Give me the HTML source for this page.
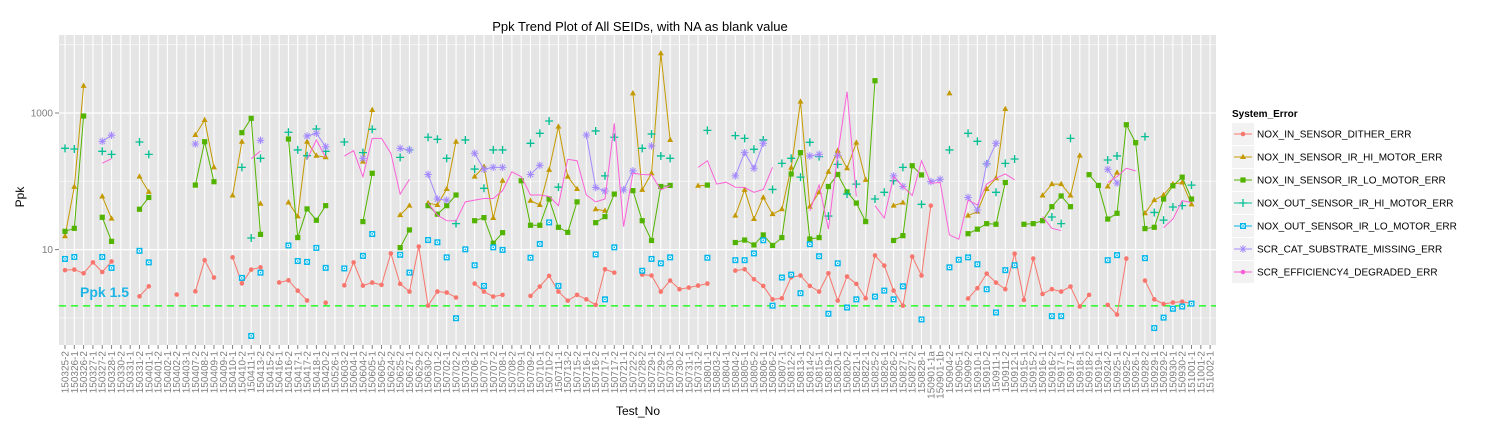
<!DOCTYPE html>
<html><head><meta charset="utf-8"><style>
html,body{margin:0;padding:0;background:#fff;}
svg{display:block;font-family:"Liberation Sans",Arial,sans-serif;}
</style></head><body>
<svg id="chart" width="1500" height="430" viewBox="0 0 1500 430">
<rect x="0" y="0" width="1500" height="430" fill="#fff"/>
<text x="640" y="31" font-size="13" text-anchor="middle" fill="#000">Ppk Trend Plot of All SEIDs, with NA as blank value</text>
<text transform="translate(24,197) rotate(-90)" font-size="12" text-anchor="middle" fill="#000">Ppk</text>
<text x="638" y="415" font-size="12" text-anchor="middle" fill="#000">Test_No</text>
<g id="panel"></g>
<g id="xlabels"></g>
<g id="series"></g>
<g id="legend"></g>
</svg>
<script>
const categories = ["150325-2","150326-1","150326-2","150327-1","150327-2","150328-1","150330-2","150331-1","150331-2","150401-1","150401-2","150402-1","150402-2","150403-1","150407-2","150408-2","150409-1","150409-2","150410-1","150410-2","150411-1","150413-2","150415-2","150416-1","150416-2","150417-1","150417-2","150418-1","150420-2","150526-1","150603-2","150604-1","150604-2","150605-1","150605-2","150624-2","150625-2","150627-1","150629-2","150630-2","150701-2","150702-1","150702-2","150703-1","150706-2","150707-1","150707-2","150708-1","150708-2","150709-1","150709-2","150710-1","150710-2","150711-1","150713-2","150715-2","150716-1","150716-2","150717-1","150717-2","150721-1","150722-2","150728-2","150729-1","150729-2","150730-1","150730-2","150731-1","150731-2","150801-1","150803-2","150804-1","150804-2","150805-1","150805-2","150806-1","150806-2","150807-1","150812-2","150813-1","150814-2","150815-1","150819-2","150820-1","150820-2","150821-1","150822-1","150825-2","150826-1","150826-2","150827-1","150827-2","150828-1","150901-1a","150901-1b","150904-2","150905-1","150909-2","150910-1","150910-2","150911-1","150911-2","150912-1","150915-1","150915-2","150916-1","150916-2","150917-1","150917-2","150918-1","150918-2","150919-1","150924-2","150925-1","150925-2","150926-1","150928-2","150929-1","150929-2","150930-1","150930-2","151001-1","151001-2","151002-1"];
const seriesNames = ["NOX_IN_SENSOR_DITHER_ERR","NOX_IN_SENSOR_IR_HI_MOTOR_ERR","NOX_IN_SENSOR_IR_LO_MOTOR_ERR","NOX_OUT_SENSOR_IR_HI_MOTOR_ERR","NOX_OUT_SENSOR_IR_LO_MOTOR_ERR","SCR_CAT_SUBSTRATE_MISSING_ERR","SCR_EFFICIENCY4_DEGRADED_ERR"];
const yTickValues = [10, 1000];
const yTickLabels = ["10", "1000"];
const yGridValues = [1, 10, 100, 1000, 10000];
const ppkLimit = 1.5;
const N = null;
const ditherErr = [5.0,5.1,4.5,6.5,4.7,6.7,N,N,2.07,2.9, N,N,2.2,N,2.45,7.0,3.9,N,7.7,3.2, 5.1,5.5,N,3.3,3.55,2.5,1.8,N,1.67,N, 3.0,6.5,2.97,3.29,3.04,8.8,3.15,2.43,11.1,1.51, 2.43,2.35,1.99,N,3.18,2.43,2.05,2.17,N,N, 2.1,2.88,4.12,2.43,1.79,2.17,1.87,1.55,5.15,4.6, N,N,4.3,4.17,2.43,3.52,2.63,2.78,2.97,3.18, N,N,4.93,5.15,3.68,2.94,1.87,1.94,3.93,4.17, 2.94,2.43,4.5,1.79,4.03,3.15,1.94,8.2,5.83,2.51, 1.51,7.9,4.17,44,N,N,N,1.92,2.72,4.45, 3.29,2.63,8.7,1.83,7.4,2.24,2.63,2.43,2.88,1.47, 2.17,N,1.55,1.12,7.4,N,3.52,1.87,1.6,1.68, 1.73,1.62,N,N];
const irHiErr = [15.7,83,2500,N,60,28.4,N,N,117,70, N,N,N,N,477,790,160,N,62,380, N,47,N,N,49,30.7,380,237,225,N, N,N,194,1107,N,N,32,44,N,48, 45,77,380,N,117,164,29,102,N,N, 52,45,147,631,117,77,N,39,37,N, N,1941,75,131,7460,403,N,N,86,87, N,N,31.5,75,28,58,33,39,158,1466, 42.5,69,138,281,155,368,105,N,N,44, 48.7,N,N,N,N,1941,N,31.5,36,77, 111,1144,N,N,N,62,91,91,62,238, N,N,84,134,N,N,34,53,63,91, 96,46,N,N];
const irLoErr = [18.5,20.5,904,N,29.7,13.2,N,N,39,58, N,N,N,N,88,380,98.6,N,N,515, 836,16.7,N,N,416,15,39.4,26.9,44,N, N,N,25.7,131,N,N,10.7,19.4,N,44, 33,44,63,N,26.5,29.4,12.4,17.7,N,102, 22.7,22.7,55,21.2,17.9,50,N,24.8,30.4,65, N,73,26.5,13.6,84,87,N,N,N,88, N,N,12.7,13.8,11.7,16.4,11.5,15,128,263, 14.3,15,84,126,70,48,25.7,2970,N,13.6, 16,169,124,N,N,N,N,17.1,19.9,24, 23.5,96,N,23.5,24,26.5,42.5,61,42.5,N, 125,87,28,34,674,368,20.3,21.2,55,86, 115,55,N,N];
const outHiErr = [304,297,N,N,275,248,N,N,376,248, N,N,N,N,N,N,N,N,N,160, 14.8,217,N,N,522,288,237,583,275,N, 376,N,263,577,N,N,224,288,N,441, 412,217,24,403,151,79,288,288,N,N, 360,504,764,82,N,N,N,546,120,441, N,N,304,493,235,217,N,N,N,557, N,N,466,425,294,403,76,183,217,115, 372,230,31,177,65,91,N,55,69,102, 160,N,46,N,N,288,N,504,385,180, 69,183,212,N,N,N,30,24,425,N, N,N,205,235,N,N,451,35,27,42, 44,88,N,N];
const outLoErr = [7.3,7.8,N,N,7.8,5.4,N,N,9.6,6.5, N,N,N,N,N,N,N,N,N,3.85, 0.545,4.6,N,N,11.5,6.8,6.6,10.6,5.4,N, 5.3,N,8.1,16.9,N,N,8.4,4.6,N,13.8, 12.8,7.7,0.99,10.1,5.9,2.94,10.8,9.9,N,N, 7.6,12.1,25,2.94,N,N,N,8.5,1.87,10.8, N,N,4.9,7.3,6.3,7.7,N,N,N,7.6, N,N,7.0,7.0,8.8,13.7,1.51,3.9,4.3,2.3, 12,8.0,1.15,6.3,1.42,1.87,N,2.05,2.51,1.87, 2.9,N,0.95,N,N,5.5,7.1,7.7,6.1,2.63, 1.2,5.0,5.9,N,N,N,1.06,1.06,N,N, N,N,7.0,8.3,N,N,7.5,0.71,1.01,1.36, 1.47,1.62,N,N];
const catMissingErr = [N,N,N,N,385,472,N,N,N,N, N,N,N,N,352,N,N,N,N,N, N,398,N,N,N,N,460,505,321,N, N,N,217,N,N,N,304,288,N,126, 55,53,N,N,257,150,160,160,N,N, 126,171,N,N,N,N,476,81,72,N, 75,142,N,329,N,N,N,N,N,N, N,N,120,263,155,360,N,N,N,N, 235,248,N,238,N,N,N,N,N,120, 84,N,N,99,107,N,N,58,38,180, 360,N,N,N,N,N,N,N,N,N, N,N,150,94,N,N,N,N,N,N, N,N,N,N];
const effDegradedErr = [N,N,N,N,184,214,N,N,N,N, N,N,N,N,N,N,N,N,N,N, 214,278,N,N,N,N,209,403,225,N, 234,281,117,425,425,257,65,107,N,48, 32,26.5,26.3,50,53,56,56,73,138,117, 63,63,60,44,210,200,63,50,55,706, 21.7,131,126,124,75,87,N,N,160,200, 91,97,82,81,69,76,160,N,N,N, 37,88,19.9,251,2050,60,N,44,29,117, 84,62,200,94,96,16.4,14.2,53,45,91, 111,128,105,N,N,30.4,20.5,19,N,N, N,N,96,117,155,142,N,N,21,28, 52,49,N,N];

const seriesData = [ditherErr, irHiErr, irLoErr, outHiErr, outLoErr, catMissingErr, effDegradedErr];
const colors = ["#F8766D","#C49A00","#53B400","#00C094","#00B6EB","#A58AFF","#FB61D7"];
const shapes = ["circle","triangle","square","plus","boxdot","star","none"];
const drawLines = [true, true, true, false, false, true, true];

const NS = "http://www.w3.org/2000/svg";
const PX0 = 59, PX1 = 1216, PY0 = 35, PY1 = 345;
function xAt(i){ return 65 + i * 9.31; }
function yAt(v){ return 113 + (3 - Math.log10(v)) * 68.3; }
function mk(tag, attrs, parent){
  const e = document.createElementNS(NS, tag);
  for (const k in attrs) e.setAttribute(k, attrs[k]);
  parent.appendChild(e);
  return e;
}

const panel = document.getElementById("panel");
const bg = mk("rect", {x:PX0, y:PY0, width:PX1-PX0, height:PY1-PY0, fill:"#E5E5E5"}, panel);


yGridValues.forEach(function(v){
  const y = yAt(v);
  if (y < PY0 || y > PY1) return;
  const major = yTickValues.indexOf(v) >= 0;
  const g = mk("line", {x1:PX0, x2:PX1, y1:y, y2:y, stroke: major ? "#FFFFFF" : "#F7F7F7", "stroke-width": major ? 1.2 : 0.8}, panel);
  
  
});
categories.forEach(function(c, i){
  const x = xAt(i);
  const g = mk("line", {x1:x, x2:x, y1:PY0, y2:PY1, stroke:"#FFFFFF", "stroke-width":1.1}, panel);
  
  
  const t = mk("line", {x1:x, x2:x, y1:PY1, y2:PY1+4, stroke:"#7F7F7F", "stroke-width":1}, panel);
  
  
});
yTickValues.forEach(function(v, k){
  const y = yAt(v);
  const t = mk("line", {x1:PX0-4, x2:PX0, y1:y, y2:y, stroke:"#7F7F7F", "stroke-width":1}, panel);
  
  
  const lbl = mk("text", {x:PX0-6, y:y+3.5, "font-size":10, "text-anchor":"end", fill:"#7F7F7F"}, panel);
  lbl.textContent = yTickLabels[k];
  
  
});
const ly = yAt(ppkLimit);
const lim = mk("line", {x1:PX0, x2:PX1, y1:ly, y2:ly, stroke:"#00FF00", "stroke-width":1.3, "stroke-dasharray":"7,5"}, panel);


const limT = mk("text", {x:80, y:ly-9, "font-size":14, "font-weight":"bold", fill:"#1EB4E6"}, panel);
limT.textContent = "Ppk 1.5";



const xl = document.getElementById("xlabels");
categories.forEach(function(c, i){
  const x = xAt(i) + 3.5, y = PY1 + 6;
  const t = mk("text", {x:x, y:y, "font-size":10, "text-anchor":"end", fill:"#7F7F7F", transform:"rotate(-90 "+x+" "+y+")"}, xl);
  t.textContent = c;
  
  
});

function drawShape(shape, x, y, color, parent){
  let e = null;
  if (shape === "circle") {
    e = mk("circle", {cx:x, cy:y, r:2.3, fill:color}, parent);
  } else if (shape === "triangle") {
    e = mk("polygon", {points:(x)+","+(y-3.3)+" "+(x-3)+","+(y+2)+" "+(x+3)+","+(y+2), fill:color}, parent);
  } else if (shape === "square") {
    e = mk("rect", {x:x-2.6, y:y-2.6, width:5.2, height:5.2, fill:color}, parent);
  } else if (shape === "plus") {
    e = mk("path", {d:"M"+(x-4)+" "+y+"H"+(x+4)+"M"+x+" "+(y-4)+"V"+(y+4), stroke:color, "stroke-width":1.3, fill:"none"}, parent);
  } else if (shape === "boxdot") {
    e = mk("g", {}, parent);
    mk("rect", {x:x-3, y:y-3, width:6, height:6, fill:color}, e);
    mk("circle", {cx:x, cy:y, r:1.3, fill:"none", stroke:"#fff", "stroke-width":0.9}, e);
  } else if (shape === "star") {
    let d = "";
    for (let a = 0; a < 4; a++) {
      const ang = a * Math.PI / 4, dx = 3.8*Math.cos(ang), dy = 3.8*Math.sin(ang);
      d += "M"+(x-dx)+" "+(y-dy)+"L"+(x+dx)+" "+(y+dy);
    }
    e = mk("path", {d:d, stroke:color, "stroke-width":1, fill:"none"}, parent);
  }
  return e;
}

const sl = document.getElementById("series");
seriesData.forEach(function(vals, s){
  const g = mk("g", {}, sl);
  
  
  if (drawLines[s]) {
    let d = "", prev = false;
    vals.forEach(function(v, i){
      if (v === null) { prev = false; return; }
      d += (prev ? "L" : "M") + xAt(i).toFixed(2) + " " + yAt(v).toFixed(2);
      prev = true;
    });
    const line = mk("path", {d:d, stroke:colors[s], "stroke-width":1, fill:"none"}, g);
    
    
  }
  vals.forEach(function(v, i){
    if (v === null) return;
    const p = drawShape(shapes[s], xAt(i), yAt(v), colors[s], g);
    if (p) {
      
      
    }
  });
});

const lg = document.getElementById("legend");
const lt = mk("text", {x:1232, y:117, "font-size":10, "font-weight":"bold", fill:"#000"}, lg);
lt.textContent = "System_Error";


seriesNames.forEach(function(name, s){
  const cy = 134 + s * 23;
  const entry = mk("g", {}, lg);
  
  
  mk("rect", {x:1232, y:cy-11, width:22, height:22, fill:"#F2F2F2"}, entry);
  mk("line", {x1:1234, x2:1252, y1:cy, y2:cy, stroke:colors[s], "stroke-width":1}, entry);
  drawShape(shapes[s] === "none" ? "circle" : shapes[s], 1243, cy, colors[s], entry);
  const t = mk("text", {x:1257, y:cy+3.5, "font-size":10, fill:"#000"}, entry);
  t.textContent = name;
});
</script>
</body></html>
